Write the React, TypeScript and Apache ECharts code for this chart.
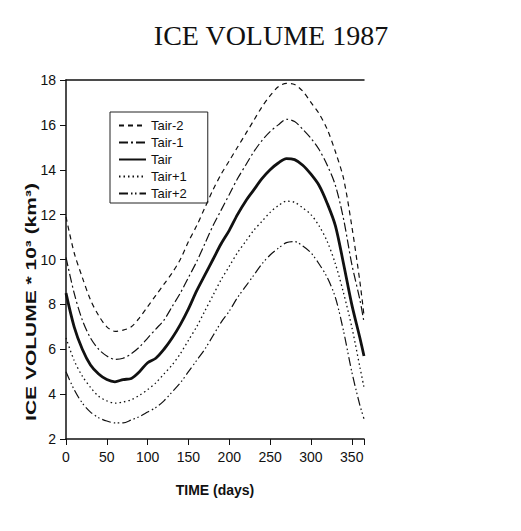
import React, { useEffect, useRef } from "react";
import * as echarts from "echarts";

const days = [0, 10, 20, 30, 40, 50, 60, 70, 80, 90, 100, 110, 120, 130, 140, 150, 160, 170, 180, 190, 200, 210, 220, 230, 240, 250, 260, 270, 280, 290, 300, 310, 320, 330, 340, 350, 360, 365];

const tairMinus2 = [11.9, 10.3, 9.2, 8.2, 7.5, 7.0, 6.8, 6.85, 7.0, 7.4, 7.9, 8.4, 8.9, 9.4, 10.0, 10.8, 11.5, 12.3, 13.1, 13.8, 14.4, 15.0, 15.6, 16.2, 16.8, 17.3, 17.7, 17.85, 17.8, 17.5, 17.0, 16.5, 15.8, 14.8, 13.6, 11.5, 9.0, 7.5];
const tairMinus1 = [10.1, 8.5, 7.3, 6.5, 6.0, 5.7, 5.55, 5.6, 5.8, 6.1, 6.5, 6.9, 7.3, 7.9, 8.5, 9.2, 9.9, 10.7, 11.5, 12.2, 12.9, 13.6, 14.2, 14.8, 15.3, 15.7, 16.0, 16.25, 16.15, 15.8, 15.4, 14.9, 14.2, 13.3, 11.8, 9.8, 8.2, 7.2];
const tair = [8.5, 7.0, 6.0, 5.3, 4.9, 4.65, 4.55, 4.65, 4.7, 5.0, 5.4, 5.6, 6.0, 6.5, 7.1, 7.8, 8.6, 9.3, 10.0, 10.7, 11.3, 12.0, 12.6, 13.1, 13.6, 14.0, 14.3, 14.5, 14.45, 14.2, 13.8, 13.3, 12.5, 11.5, 9.8, 8.0, 6.5, 5.7];
const tairPlus1 = [6.5, 5.5, 4.8, 4.3, 3.9, 3.7, 3.6, 3.65, 3.75, 3.95, 4.2, 4.5, 4.9, 5.3, 5.8, 6.4, 7.0, 7.7, 8.4, 9.1, 9.7, 10.3, 10.8, 11.3, 11.7, 12.1, 12.4, 12.6, 12.55, 12.3, 12.0, 11.5, 10.8, 9.8, 8.5, 7.0, 5.2, 4.3];
const tairPlus2 = [5.0, 4.2, 3.6, 3.2, 2.95, 2.8, 2.72, 2.72, 2.85, 3.0, 3.2, 3.4, 3.7, 4.1, 4.5, 5.0, 5.5, 6.0, 6.6, 7.2, 7.7, 8.3, 8.8, 9.3, 9.8, 10.2, 10.5, 10.75, 10.8, 10.6, 10.3, 9.8, 9.2, 8.3, 6.8, 5.0, 3.5, 2.9];

const seriesNames = ["Tair-2", "Tair-1", "Tair", "Tair+1", "Tair+2"];
const seriesValues = [tairMinus2, tairMinus1, tair, tairPlus1, tairPlus2];

const lineStyles: any[] = [
  { width: 1.2, type: [5, 4] },
  { width: 1.2, type: [9, 3, 2, 3] },
  { width: 2.8, type: "solid" },
  { width: 1.3, type: [1.5, 3] },
  { width: 1.2, type: [9, 3, 1.5, 2.5, 1.5, 3] },
];

const sans = "'Liberation Sans', Arial, Helvetica, sans-serif";

export default function App() {
  const ref = useRef<HTMLDivElement>(null);
  useEffect(() => {
    document.body.style.margin = "0";
    if (!ref.current) return;
    const chart = echarts.init(ref.current, null, { renderer: "svg" });
    chart.setOption({
      animation: false,
      backgroundColor: "#ffffff",
      title: {
        text: "ICE VOLUME 1987",
        left: 266,
        textAlign: "center",
        top: 16,
        textStyle: { fontFamily: "'Liberation Serif', 'Times New Roman', serif", fontSize: 28, fontWeight: "normal", color: "#111" },
      },
      legend: {
        orient: "vertical",
        left: 110,
        top: 112,
        data: seriesNames,
        itemWidth: 27,
        itemHeight: 10,
        itemGap: 4,
        padding: [7, 21, 3, 8],
        borderColor: "#222",
        borderWidth: 1,
        itemStyle: { opacity: 0 },
        textStyle: { fontFamily: sans, fontSize: 13, color: "#111" },
      },
      grid: { left: 66, top: 80, right: 157, bottom: 92 },
      graphic: [
        {
          type: "text",
          x: 31,
          y: 302,
          rotation: Math.PI / 2,
          scaleX: 1.4,
          style: {
            text: "ICE VOLUME * 10³ (km³)",
            fontFamily: sans,
            fontSize: 15,
            fontWeight: "bold",
            fill: "#111",
            textAlign: "center",
            textVerticalAlign: "middle",
          },
        },
      ],
      xAxis: [
        {
          type: "value",
          min: 0,
          max: 365,
          interval: 50,
          name: "TIME (days)",
          nameLocation: "middle",
          nameGap: 44,
          nameTextStyle: { fontFamily: sans, fontSize: 14, fontWeight: "bold", color: "#111" },
          axisLine: { show: true, onZero: false, lineStyle: { color: "#111", width: 1.5 } },
          axisTick: { show: true, length: 6, lineStyle: { color: "#111" } },
          axisLabel: {
            fontFamily: sans,
            fontSize: 14,
            color: "#111",
            margin: 11,
            formatter: (v: number) => (v % 50 === 0 ? String(v) : ""),
          },
          splitLine: { show: false },
        },
        {
          type: "value",
          position: "top",
          min: 0,
          max: 365,
          axisLine: { show: true, lineStyle: { color: "#111", width: 1.5 } },
          axisTick: { show: false },
          axisLabel: { show: false },
          splitLine: { show: false },
        },
      ],
      yAxis: {
        type: "value",
        min: 2,
        max: 18,
        interval: 2,
        axisLine: { show: true, lineStyle: { color: "#111", width: 1.5 } },
        axisTick: { show: true, length: 6, lineStyle: { color: "#111" } },
        axisLabel: { fontFamily: sans, fontSize: 14, color: "#111", margin: 10 },
        splitLine: { show: false },
      },
      series: seriesNames.map((name, i) => ({
        name,
        type: "line",
        xAxisIndex: 0,
        smooth: 0.3,
        symbol: "none",
        showSymbol: false,
        data: days.map((d, j) => [d, seriesValues[i][j]]),
        lineStyle: { color: "#111", ...lineStyles[i] },
        itemStyle: { color: "#111" },
      })),
    });
    return () => chart.dispose();
  }, []);
  return <div ref={ref} style={{ width: 521, height: 531 }} />;
}
